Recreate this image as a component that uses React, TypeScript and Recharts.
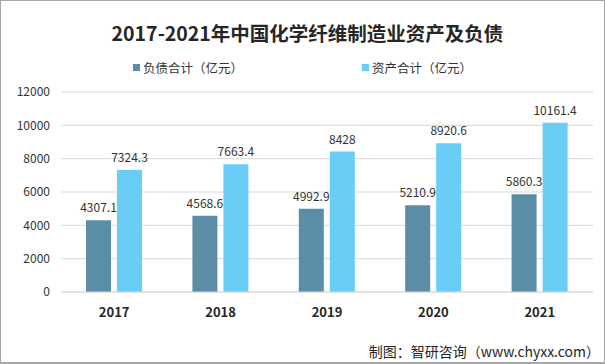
import { BarChart, Bar, XAxis, YAxis, CartesianGrid, Legend, LabelList } from "recharts";

const years = ["2017", "2018", "2019", "2020", "2021"];
const debt = [4307.1, 4568.6, 4992.9, 5210.9, 5860.3];
const assets = [7324.3, 7663.4, 8428, 8920.6, 10161.4];
const yTicks = [0, 2000, 4000, 6000, 8000, 10000, 12000];

const DEBT_COLOR = "#5b8ea6";
const ASSET_COLOR = "#69cdf5";
const FONT = "'Noto Sans CJK SC', 'Noto Sans', sans-serif";

const data = years.map((y, i) => ({ year: y, debt: debt[i], assets: assets[i] }));

function LegendContent() {
  const item = (color: string, label: string, left: number) => (
    <div style={{ position: "absolute", left, top: 0, display: "flex", alignItems: "center", fontSize: 12.5, color: "#333" }}>
      <span style={{ display: "inline-block", width: 7, height: 7, background: color, marginRight: 3 }} />
      {label}
    </div>
  );
  return (
    <div style={{ position: "relative", height: 20, fontFamily: FONT }}>
      {item(DEBT_COLOR, "负债合计（亿元）", 133)}
      {item(ASSET_COLOR, "资产合计（亿元）", 362)}
    </div>
  );
}

export default function App() {
  return (
    <div
      style={{
        position: "fixed",
        left: 0,
        top: 0,
        width: 605,
        height: 364,
        boxSizing: "border-box",
        border: "1px solid #a6a6a6",
        borderBottomWidth: 2,
        background: "#fff",
        fontFamily: FONT,
      }}
    >
      <div style={{ position: "absolute", top: 17, left: 4, width: 605, textAlign: "center", fontSize: 19.5, fontWeight: 700, color: "#262626" }}>
        2017-2021年中国化学纤维制造业资产及负债
      </div>
      <div style={{ position: "absolute", left: -1, top: -1 }}>
        <BarChart width={605} height={364} data={data} margin={{ top: 72, right: 12, left: 0, bottom: 42 }} barSize={25} barGap={6}>
          <CartesianGrid vertical={false} stroke="#d9d9d9" />
          <XAxis
            dataKey="year"
            axisLine={{ stroke: "#d9d9d9" }}
            tickLine={false}
            tickMargin={10}
            tick={{ fill: "#262626", fontSize: 13, fontWeight: 700, fontFamily: FONT }}
            height={30}
          />
          <YAxis
            width={61}
            domain={[0, 12000]}
            ticks={yTicks}
            axisLine={false}
            tickLine={false}
            tickMargin={5}
            tick={{ fill: "#333", fontSize: 12, fontFamily: FONT }}
          />
          <Legend verticalAlign="top" height={20} wrapperStyle={{ top: 58, left: 0, width: 605 }} content={<LegendContent />} />
          <Bar dataKey="debt" name="负债合计（亿元）" fill={DEBT_COLOR} isAnimationActive={false}>
            <LabelList dataKey="debt" position="top" offset={8} fill="#333" fontSize={12} fontFamily={FONT} />
          </Bar>
          <Bar dataKey="assets" name="资产合计（亿元）" fill={ASSET_COLOR} isAnimationActive={false}>
            <LabelList dataKey="assets" position="top" offset={8} fill="#333" fontSize={12} fontFamily={FONT} />
          </Bar>
        </BarChart>
      </div>
      <div style={{ position: "absolute", right: 4, top: 340, fontSize: 14, color: "#262626" }}>
        制图：智研咨询（www.chyxx.com）
      </div>
    </div>
  );
}
